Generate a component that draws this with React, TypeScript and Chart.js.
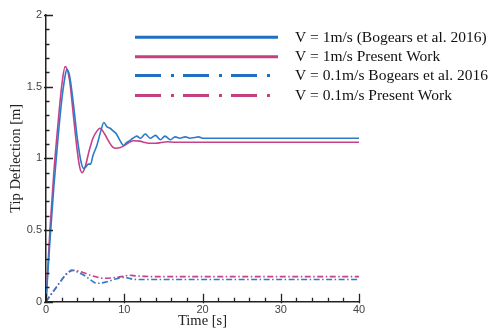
import React, { useEffect, useRef } from 'react';
import { Chart, registerables } from 'chart.js';

Chart.register(...registerables);

// V = 1 m/s (Bogears et al. 2016)
const tBog1 = [0, 0.5, 1, 1.5, 2, 2.4, 2.65, 3.0, 3.5, 4.0, 4.5, 4.8, 5.1, 5.4, 5.7, 6.0, 6.5, 7.0, 7.4, 7.8, 8.2, 8.6, 9.0, 9.5, 9.9, 10.3, 10.6, 11.1, 11.6, 12.05, 12.7, 13.3, 14.0, 14.6, 15.2, 15.9, 16.5, 17.1, 17.8, 18.4, 19.0, 19.5, 20, 40];
const yBog1 = [0, 0.42, 0.8, 1.12, 1.4, 1.56, 1.62, 1.58, 1.38, 1.14, 0.97, 0.93, 0.94, 0.96, 0.96, 1.02, 1.09, 1.19, 1.25, 1.22, 1.21, 1.19, 1.17, 1.12, 1.09, 1.11, 1.12, 1.14, 1.155, 1.14, 1.17, 1.14, 1.16, 1.13, 1.155, 1.13, 1.15, 1.14, 1.15, 1.14, 1.145, 1.15, 1.14, 1.14];

// V = 1 m/s Present Work
const tPres1 = [0, 0.5, 1.0, 1.5, 2.0, 2.45, 3.0, 3.5, 4.0, 4.3, 4.6, 5.0, 5.5, 6.0, 6.5, 6.9, 7.5, 8.0, 8.5, 8.9, 9.5, 10.0, 10.6, 11.2, 12.0, 12.7, 13.3, 14.0, 14.7, 15.5, 16.5, 40];
const yPres1 = [0, 0.5, 0.9, 1.22, 1.5, 1.64, 1.55, 1.3, 1.05, 0.94, 0.9, 0.94, 1.05, 1.14, 1.19, 1.21, 1.17, 1.12, 1.08, 1.07, 1.075, 1.09, 1.11, 1.123, 1.12, 1.11, 1.105, 1.105, 1.11, 1.116, 1.112, 1.112];

// V = 0.1 m/s Bogears et al. 2016
const tBog01 = [0, 0.5, 1, 1.5, 2, 2.5, 3, 3.3, 3.8, 4.3, 4.8, 5.5, 6.0, 6.5, 7.0, 7.5, 8.2, 9.0, 9.9, 10.5, 11.2, 12, 13, 40];
const yBog01 = [0, 0.04, 0.077, 0.115, 0.152, 0.188, 0.212, 0.221, 0.212, 0.2, 0.186, 0.16, 0.14, 0.128, 0.13, 0.135, 0.146, 0.16, 0.17, 0.165, 0.156, 0.155, 0.155, 0.155];

// V = 0.1 m/s Present Work
const tPres01 = [0, 0.5, 1, 1.5, 2, 2.5, 3, 3.5, 4, 4.5, 5, 5.6, 6.5, 7.3, 8.2, 9.0, 10.0, 10.7, 11.5, 12.5, 13.5, 40];
const yPres01 = [0, 0.04, 0.077, 0.115, 0.152, 0.185, 0.208, 0.218, 0.216, 0.208, 0.198, 0.186, 0.172, 0.163, 0.165, 0.17, 0.178, 0.184, 0.18, 0.177, 0.175, 0.175];

const xTickValues = [0, 10, 20, 30, 40];
const yTickValues = [0, 0.5, 1, 1.5, 2];
const legendLabels = [
  'V = 1m/s (Bogears et al. 2016)',
  'V = 1m/s Present Work',
  'V = 0.1m/s Bogears et al. 2016',
  'V = 0.1m/s Present Work',
];
const xTitle = 'Time [s]';
const yTitle = 'Tip Deflection [m]';

const BLUE = '#2a7cc6';
const PINK = '#c8408a';
const LEG_BLUE = '#1f70c2';
const LEG_PINK = '#c63f7e';

const toPts = (t: number[], y: number[]) => t.map((v, i) => ({ x: v, y: y[i] }));

const decorPlugin = {
  id: 'decor',
  afterDraw(chart: any) {
    const { ctx, chartArea, scales } = chart;
    const { left, right, top, bottom } = chartArea;
    const xs = scales.x;
    const ys = scales.y;
    ctx.save();
    ctx.strokeStyle = '#222';
    ctx.lineWidth = 1.3;
    ctx.setLineDash([]);
    ctx.beginPath();
    for (let i = 0; i <= 20; i++) {
      const v = i / 10;
      const py = Math.round(ys.getPixelForValue(v)) + 0.5;
      const major = i % 5 === 0;
      ctx.moveTo(left - (major ? 2 : 0), py);
      ctx.lineTo(left + (major ? 7 : 3.5), py);
    }
    for (let i = 0; i <= 20; i++) {
      const v = i * 2;
      const px = Math.round(xs.getPixelForValue(v)) + 0.5;
      const major = i % 5 === 0;
      ctx.moveTo(px, bottom + (major ? 1.5 : 0));
      ctx.lineTo(px, bottom - (major ? 8 : 4));
    }
    ctx.stroke();

    // axis titles
    ctx.fillStyle = '#222';
    ctx.font = '14.5px "Liberation Serif"';
    ctx.textAlign = 'center';
    ctx.textBaseline = 'middle';
    ctx.fillText(xTitle, (left + right) / 2, 321);
    ctx.save();
    ctx.translate(16.5, (top + bottom) / 2);
    ctx.rotate(-Math.PI / 2);
    ctx.fillText(yTitle, 0, 0);
    ctx.restore();

    // legend
    const rows = [37.3, 56.7, 75.5, 95.5];
    const colors = [LEG_BLUE, LEG_PINK, LEG_BLUE, LEG_PINK];
    ctx.lineWidth = 3;
    ctx.font = '15.5px "Liberation Serif"';
    ctx.textAlign = 'left';
    for (let i = 0; i < 4; i++) {
      ctx.strokeStyle = colors[i];
      ctx.setLineDash(i < 2 ? [] : [26, 10, 3, 9]);
      ctx.beginPath();
      ctx.moveTo(135, rows[i]);
      ctx.lineTo(278, rows[i]);
      ctx.stroke();
      ctx.fillStyle = '#111';
      ctx.fillText(legendLabels[i], 295, rows[i] + 0.5);
    }
    ctx.restore();
  },
};

export default function App() {
  const ref = useRef<HTMLCanvasElement | null>(null);
  useEffect(() => {
    if (!ref.current) return;
    const tickFont = { family: '"Liberation Sans", Arial, sans-serif', size: 11 };
    const chart = new Chart(ref.current, {
      type: 'line',
      data: {
        datasets: [
          { label: legendLabels[0], data: toPts(tBog1, yBog1), borderColor: BLUE, borderWidth: 1.6 },
          { label: legendLabels[1], data: toPts(tPres1, yPres1), borderColor: PINK, borderWidth: 1.6 },
          { label: legendLabels[2], data: toPts(tBog01, yBog01), borderColor: BLUE, borderWidth: 1.6, borderDash: [6, 2.5, 1.5, 2.5] },
          { label: legendLabels[3], data: toPts(tPres01, yPres01), borderColor: PINK, borderWidth: 1.6, borderDash: [6, 2.5, 1.5, 2.5] },
        ],
      },
      options: {
        animation: false,
        responsive: true,
        maintainAspectRatio: false,
        parsing: false as any,
        elements: { point: { radius: 0 }, line: { cubicInterpolationMode: 'monotone', fill: false } },
        layout: { padding: { left: 0, right: 133, top: 15, bottom: 0 } },
        plugins: { legend: { display: false }, tooltip: { enabled: false } },
        scales: {
          x: {
            type: 'linear',
            min: 0,
            max: 40,
            afterFit: (s: any) => { s.height = 27.3; },
            afterBuildTicks: (s: any) => { s.ticks = xTickValues.map((v) => ({ value: v })); },
            ticks: { font: tickFont, color: '#444', padding: 2, maxRotation: 0, callback: (v: any) => String(v) },
            grid: { display: false, drawTicks: false },
            border: { display: true, color: '#222', width: 1.5 },
          },
          y: {
            type: 'linear',
            min: 0,
            max: 2,
            afterFit: (s: any) => { s.width = 46; },
            afterBuildTicks: (s: any) => { s.ticks = yTickValues.map((v) => ({ value: v })); },
            ticks: { font: tickFont, color: '#444', padding: 4, callback: (v: any) => String(v) },
            grid: { display: false, drawTicks: false },
            border: { display: true, color: '#222', width: 1.5 },
          },
        },
      },
      plugins: [decorPlugin],
    });
    return () => chart.destroy();
  }, []);
  return (
    <div style={{ position: 'absolute', left: 0, top: 0, width: 492, height: 329, background: '#fff' }}>
      <canvas ref={ref} />
    </div>
  );
}
